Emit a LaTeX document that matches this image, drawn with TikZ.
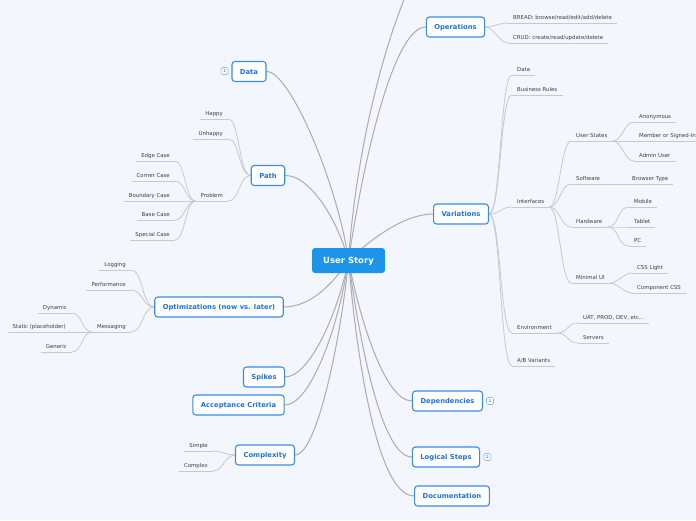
\documentclass[tikz,border=0pt]{standalone}
\usepackage{fontspec}
\setmainfont{DejaVu Sans}
\usetikzlibrary{calc,backgrounds}
\definecolor{bg}{HTML}{F3F6FD}
\definecolor{mainblue}{HTML}{1E74D8}
\definecolor{borderblue}{HTML}{3A8CE6}
\definecolor{rootblue}{HTML}{1C94E9}
\definecolor{leaftext}{HTML}{3E3E48}
\definecolor{conn}{HTML}{ACACB2}
\definecolor{subconn}{HTML}{C8C8D0}
\definecolor{badgeblue}{HTML}{8DBBF0}
\definecolor{badgetext}{HTML}{5C9BE6}
\begin{document}
\begin{tikzpicture}[x=1pt,y=-1pt,
 root/.style={fill=rootblue, rounded corners=3pt, text=white, font=\fontsize{8.5}{10}\selectfont\bfseries, minimum width=73pt, minimum height=25pt, inner sep=0pt, text height=6.2pt, text depth=0pt},
 topic/.style={draw=borderblue, line width=1.1pt, fill=white, rounded corners=3pt, text=mainblue, font=\fontsize{6.8}{8}\selectfont\bfseries, minimum height=20pt, inner xsep=8pt, inner ysep=0pt, text height=5pt, text depth=0pt},
 leaf/.style={text=leaftext, font=\fontsize{5.4}{6.5}\selectfont, inner xsep=5pt, inner ysep=2.6pt, text height=4pt, text depth=1.2pt},
 badge/.style={draw=badgeblue, line width=0.7pt, fill=white, rounded corners=1.5pt, text=badgetext, font=\fontsize{4}{4}\selectfont\bfseries, minimum width=7pt, minimum height=7pt, inner sep=0pt},
 mainline/.style={draw=conn, line width=1pt},
 subline/.style={draw=subconn, line width=0.8pt},
 toright/.style={to path={.. controls ($(\tikztostart)+(#1,0)$) and ($(\tikztotarget)+(-#1,0)$) .. (\tikztotarget)}},
 toright/.default=10,
 toleft/.style={to path={.. controls ($(\tikztostart)+(-#1,0)$) and ($(\tikztotarget)+(#1,0)$) .. (\tikztotarget)}},
 toleft/.default=10,
]
\useasboundingbox (0,0) rectangle (696,520);

% root and topics
\node[root] (us) at (348.5,260.5) {User Story};
\node[topic] (ops) at (455.5,27) {Operations};
\node[topic] (data) at (249,71.5) {Data};
\node[badge] (databadge) at (224.5,71) {1};
\node[topic] (path) at (268,175.5) {Path};
\node[topic] (vars) at (461,214) {Variations};
\node[topic] (opt) at (219,307) {Optimizations (now vs. later)};
\node[topic] (spikes) at (264,377) {Spikes};
\node[topic] (accept) at (238.5,405) {Acceptance Criteria};
\node[topic] (cplx) at (265,455) {Complexity};
\node[topic] (deps) at (447.5,401) {Dependencies};
\node[badge] (depsbadge) at (490,401) {1};
\node[topic] (logic) at (446,457) {Logical Steps};
\node[badge] (logicbadge) at (487.5,457) {2};
\node[topic] (docs) at (452,496) {Documentation};
\coordinate (offtop) at (410,-14);

% leaves (left aligned)
\node[leaf,anchor=south west] (bread) at (508,23) {BREAD: browse/read/edit/add/delete};
\node[leaf,anchor=south west] (crud) at (508,43) {CRUD: create/read/update/delete};
\node[leaf,anchor=south west] (vdata) at (512,75) {Data};
\node[leaf,anchor=south west] (vbus) at (512,95) {Business Rules};
\node[leaf,anchor=south west] (vint) at (512,207) {Interfaces};
\node[leaf,anchor=south west] (venv) at (512,333) {Environment};
\node[leaf,anchor=south west] (vab) at (512,366) {A/B Variants};
\node[leaf,anchor=south west] (ustates) at (571,141) {User States};
\node[leaf,anchor=south west] (software) at (571,184) {Software};
\node[leaf,anchor=south west] (hardware) at (571,227) {Hardware};
\node[leaf,anchor=south west] (minui) at (571,283) {Minimal UI};
\node[leaf,anchor=south west] (anon) at (634,122) {Anonymous};
\node[leaf,anchor=south west] (member) at (634,141) {Member or Signed-In};
\node[leaf,anchor=south west] (admin) at (634,161) {Admin User};
\node[leaf,anchor=south west] (browser) at (627,184) {Browser Type};
\node[leaf,anchor=south west] (mobile) at (629,207) {Mobile};
\node[leaf,anchor=south west] (tablet) at (629,227) {Tablet};
\node[leaf,anchor=south west] (pc) at (629,246) {PC};
\node[leaf,anchor=south west] (csslight) at (632,273) {CSS Light};
\node[leaf,anchor=south west] (compcss) at (632,293) {Component CSS};
\node[leaf,anchor=south west] (uat) at (578,323) {UAT, PROD, DEV, etc...};
\node[leaf,anchor=south west] (servers) at (578,343) {Servers};

% leaves (right aligned)
\node[leaf,anchor=south east] (happy) at (228,119) {Happy};
\node[leaf,anchor=south east] (unhappy) at (228,139) {Unhappy};
\node[leaf,anchor=south east] (problem) at (228,201) {Problem};
\node[leaf,anchor=south east] (edge) at (175,161) {Edge Case};
\node[leaf,anchor=south east] (corner) at (175,181) {Corner Case};
\node[leaf,anchor=south east] (boundary) at (175,201) {Boundary Case};
\node[leaf,anchor=south east] (base) at (175,220) {Base Case};
\node[leaf,anchor=south east] (special) at (175,240) {Special Case};
\node[leaf,anchor=south east] (logging) at (131,270) {Logging};
\node[leaf,anchor=south east] (perf) at (131,290) {Performance};
\node[leaf,anchor=south east] (messaging) at (131,332) {Messaging};
\node[leaf,anchor=south east] (dynamic) at (72,313) {Dynamic};
\node[leaf,anchor=south east] (static) at (71,332) {Static (placeholder)};
\node[leaf,anchor=south east] (generic) at (72,352) {Generic};
\node[leaf,anchor=south east] (simple) at (213,451) {Simple};
\node[leaf,anchor=south east] (complex) at (213,471) {Complex};

\begin{pgfonlayer}{background}
\fill[bg] (0,0) rectangle (696,520);
% underlines
\foreach \n in {bread,crud,vdata,vbus,vint,venv,vab,ustates,software,hardware,minui,anon,member,admin,browser,mobile,tablet,pc,csslight,compcss,uat,servers,happy,unhappy,problem,edge,corner,boundary,base,special,logging,perf,messaging,dynamic,static,generic,simple,complex}
  \draw[subline] (\n.south west) -- (\n.south east);
% main connectors
\draw[mainline] (us.center) .. controls (356,150) and (385,40) .. (offtop);
\draw[mainline] (ops.west) .. controls (395,27) and (365,150) .. (us.center);
\draw[mainline] (data.east) .. controls (290,71) and (338,185) .. (us.center);
\draw[mainline] (path.east) .. controls (308,175) and (336,215) .. (us.center);
\draw[mainline] (vars.west) .. controls (405,214) and (372,238) .. (us.center);
\draw[mainline] (opt.east) .. controls (310,307) and (332,285) .. (us.center);
\draw[mainline] (spikes.east) .. controls (308,377) and (336,320) .. (us.center);
\draw[mainline] (accept.east) .. controls (310,405) and (338,330) .. (us.center);
\draw[mainline] (cplx.east) .. controls (318,455) and (342,330) .. (us.center);
\draw[mainline] (deps.west) .. controls (385,401) and (360,320) .. (us.center);
\draw[mainline] (logic.west) .. controls (380,457) and (358,330) .. (us.center);
\draw[mainline] (docs.west) .. controls (375,496) and (355,340) .. (us.center);
% sub connectors
\foreach \n in {bread,crud} \draw[subline] (ops.east) to[toright=9] (\n.south west);
\foreach \n in {vdata,vbus,vint,venv,vab} \draw[subline] (vars.east) to[toright=12] (\n.south west);
\foreach \n in {ustates,software,hardware,minui} \draw[subline] (vint.south east) to[toright=10] (\n.south west);
\foreach \n in {anon,member,admin} \draw[subline] (ustates.south east) to[toright=10] (\n.south west);
\draw[subline] (software.south east) -- (browser.south west);
\foreach \n in {mobile,tablet,pc} \draw[subline] (hardware.south east) to[toright=12] (\n.south west);
\foreach \n in {csslight,compcss} \draw[subline] (minui.south east) to[toright=8] (\n.south west);
\foreach \n in {uat,servers} \draw[subline] (venv.south east) to[toright=12] (\n.south west);
\foreach \n in {happy,unhappy,problem} \draw[subline] (path.west) to[toleft=12] (\n.south east);
\foreach \n in {edge,corner,boundary,base,special} \draw[subline] (problem.south west) to[toleft=10] (\n.south east);
\foreach \n in {logging,perf,messaging} \draw[subline] (opt.west) to[toleft=12] (\n.south east);
\foreach \n in {dynamic,static,generic} \draw[subline] (messaging.south west) to[toleft=10] (\n.south east);
\foreach \n in {simple,complex} \draw[subline] (cplx.west) to[toleft=10] (\n.south east);
\end{pgfonlayer}
\end{tikzpicture}
\end{document}
